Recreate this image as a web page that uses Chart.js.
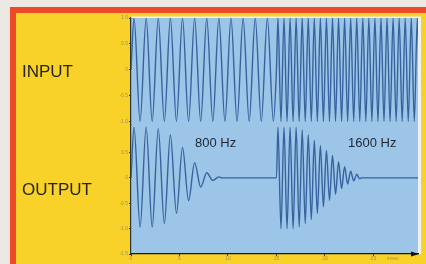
<!DOCTYPE html>
<html><head><meta charset="utf-8">
<script src="https://cdn.jsdelivr.net/npm/chart.js@4/dist/chart.umd.min.js"></script>
<style>
html,body{margin:0;padding:0;background:#ece8e4;width:426px;height:264px;overflow:hidden;position:relative;font-family:"Liberation Sans",Arial,sans-serif}
#frame{position:absolute;left:10px;top:7px;width:440px;height:280px;box-sizing:border-box;border:6px solid #ee4a2a;background:#f8d229}
#wrap{position:absolute;left:0;top:0;width:426px;height:264px}
.lbl{position:absolute;color:#26241c;font-size:17px;line-height:17px;white-space:nowrap}
.ann{position:absolute;color:#1c2838;font-size:13px;line-height:13px;white-space:nowrap}
</style>
</head><body>
<div id="frame"></div>
<div id="wrap"><canvas id="c" width="426" height="264"></canvas></div>
<div class="lbl" style="left:22px;top:63px">INPUT</div>
<div class="lbl" style="left:22px;top:181px">OUTPUT</div>
<div class="ann" style="left:195px;top:136px">800 Hz</div>
<div class="ann" style="left:348px;top:136px">1600 Hz</div>
<script>
// ---- data ----
const segmentStartsMs = [0, 15];          // tone switches at 15 ms
const segmentFreqHz   = [800, 1600];
const xTicksMs  = [0, 5, 10, 15, 20, 25];
const xUnitLabel = 'msec';
const yInTicks  = [1, 0.5, 0, -0.5, -1];
const yOutTicks = [0.5, 0, -0.5, -1, -1.5];
// successive half-cycle extremes (peak, trough, ...)
const input800Extrema  = [1,-1,1,-1,1,-1,1,-1,1,-1,1,-1,1,-1,1,-1,1,-1,1,-1,1,-1,1,-1];
const input1600Extrema = [1,-1,1,-1,1,-1,1,-1,1,-1,1,-1,1,-1,1,-1,1,-1,1,-1,1,-1,1,-1,
                          1,-1,1,-1,1,-1,1,-1,1,-1,1,-1,1,-1,1,-1,1,-1,1,-1,1,-1,1,-1];
const output800Extrema  = [1.0,-0.97,1.0,-0.97,0.97,-0.9,0.85,-0.7,0.6,-0.45,0.3,-0.18,0.1,-0.05,0.02];
const output1600Extrema = [1,-1,1,-1,1,-1,1,-0.97,0.95,-0.9,0.85,-0.82,0.74,-0.7,0.64,-0.57,
                           0.54,-0.44,0.44,-0.32,0.32,-0.21,0.22,-0.12,0.13,-0.06,0.07,-0.02];
const endMs = 29.6;

function wavePoints(extrema, startMs, freq){
  const half = 1000 / freq / 2;
  const pts = [{x:startMs, y:0}];
  extrema.forEach((v,i)=>pts.push({x:startMs + half/2 + i*half, y:v}));
  pts.push({x:startMs + extrema.length*half, y:0});
  return pts;
}
const inputData = wavePoints(input800Extrema, segmentStartsMs[0], segmentFreqHz[0])
  .concat(wavePoints(input1600Extrema, segmentStartsMs[1], segmentFreqHz[1]).slice(1));
const outputData = wavePoints(output800Extrema, segmentStartsMs[0], segmentFreqHz[0])
  .concat(wavePoints(output1600Extrema, segmentStartsMs[1], segmentFreqHz[1]))
  .concat([{x:endMs, y:0}]);

const waveColor = '#36629e';
const tickColor = '#a09358';

const bgPlugin = {
  id:'bg',
  beforeDraw(chart){
    const {ctx, chartArea:a} = chart;
    ctx.save();
    ctx.fillStyle = '#eef1ee';
    ctx.fillRect(a.left, a.top-1.5, a.width+3, a.height+1.5);
    ctx.fillStyle = '#9dc5e7';
    ctx.fillRect(a.left, a.top, a.width, a.height);
    ctx.restore();
  },
  afterDraw(chart){
    const {ctx, chartArea:a, scales} = chart;
    ctx.save();
    ctx.fillStyle = '#111';
    ctx.beginPath();
    ctx.moveTo(a.right+1, a.bottom);
    ctx.lineTo(a.right-7, a.bottom-2.5);
    ctx.lineTo(a.right-7, a.bottom+2.5);
    ctx.closePath(); ctx.fill();
    ctx.font = '5px "Liberation Sans"';
    ctx.fillStyle = tickColor;
    ctx.textAlign = 'center'; ctx.textBaseline = 'top';
    ctx.fillText(xUnitLabel, scales.x.getPixelForValue(27.0), a.bottom + 2);
    ctx.restore();
  }
};

const tickFont = {family:'Liberation Sans', size:5};
new Chart(document.getElementById('c'), {
  type:'line',
  data:{datasets:[
    {label:'INPUT', data:inputData, xAxisID:'x', yAxisID:'yIn', borderColor:waveColor, borderWidth:1.4,
     pointRadius:0, cubicInterpolationMode:'monotone', fill:false},
    {label:'OUTPUT', data:outputData, xAxisID:'x', yAxisID:'yOut', borderColor:waveColor, borderWidth:1.4,
     pointRadius:0, cubicInterpolationMode:'monotone', fill:false}
  ]},
  options:{
    responsive:false, animation:false, devicePixelRatio:1,
    layout:{padding:{left:0, top:18, right:8, bottom:0}},
    plugins:{legend:{display:false}, tooltip:{enabled:false}},
    scales:{
      x:{type:'linear', position:'bottom', min:0, max:endMs,
         afterBuildTicks:s=>{s.ticks = xTicksMs.map(v=>({value:v}));},
         ticks:{font:tickFont, color:tickColor, padding:0, maxRotation:0, autoSkip:false},
         grid:{drawOnChartArea:false, tickLength:2, color:'#333'},
         border:{color:'#1a1a1a', width:1.2},
         afterFit:s=>{s.height = 10;}},
      yOut:{type:'linear', position:'left', stack:'panels', stackWeight:2.55, min:-1.5, max:1.05,
         afterBuildTicks:s=>{s.ticks = yOutTicks.map(v=>({value:v}));},
         ticks:{font:tickFont, color:tickColor, padding:1},
         grid:{drawOnChartArea:false, tickLength:2, color:'#333'},
         border:{color:'#2a3430', width:1.2},
         afterFit:s=>{s.width = 131;}},
      yIn:{type:'linear', position:'left', stack:'panels', stackWeight:2.1, min:-1.06, max:1,
         afterBuildTicks:s=>{s.ticks = yInTicks.map(v=>({value:v}));},
         ticks:{font:tickFont, color:tickColor, padding:1},
         grid:{drawOnChartArea:false, tickLength:2, color:'#333'},
         border:{color:'#2a3430', width:1.2},
         afterFit:s=>{s.width = 131;}}
    }
  },
  plugins:[bgPlugin]
});
</script>
</body></html>
